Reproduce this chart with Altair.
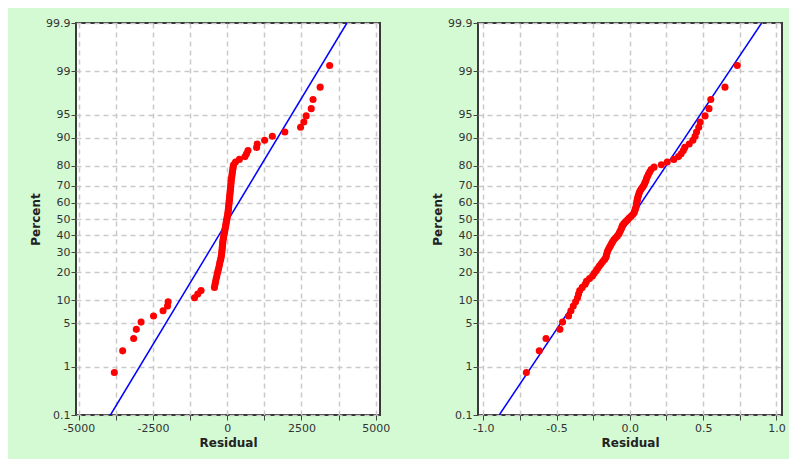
import altair as alt
import pandas as pd
from statistics import NormalDist

left_resid = [
    -3800, -3520, -3150, -3060, -2900, -2480, -2160, -2010, -1990, -1100,
    -990, -880, -430, -410, -390, -370, -350, -330, -310, -290,
    -270, -255, -240, -220, -205, -195, -185, -178, -171, -164,
    -158, -152, -148, -137, -126, -115, -104, -93, -82, -71,
    -60, -49, -38, -27, -16, -5, 6, 18, 26, 33,
    39, 46, 52, 58, 65, 71, 78, 84, 90, 97,
    103, 110, 116, 122, 129, 135, 145, 155, 165, 175,
    188, 200, 215, 280, 410, 600, 650, 700, 990, 1010,
    1260, 1520, 1940, 2470, 2580, 2660, 2830, 2890, 3130, 3450,
]
right_resid = [
    -0.706, -0.618, -0.572, -0.477, -0.459, -0.418, -0.402, -0.386, -0.370, -0.357,
    -0.350, -0.342, -0.325, -0.305, -0.296, -0.275, -0.255, -0.243, -0.230, -0.220,
    -0.208, -0.196, -0.185, -0.172, -0.163, -0.160, -0.156, -0.152, -0.145, -0.138,
    -0.131, -0.124, -0.117, -0.108, -0.097, -0.085, -0.075, -0.070, -0.064, -0.058,
    -0.054, -0.050, -0.040, -0.028, -0.016, -0.005, 0.008, 0.020, 0.029, 0.033,
    0.037, 0.041, 0.044, 0.046, 0.048, 0.050, 0.052, 0.056, 0.060, 0.064,
    0.070, 0.078, 0.088, 0.097, 0.103, 0.109, 0.114, 0.120, 0.127, 0.135,
    0.145, 0.165, 0.215, 0.255, 0.300, 0.332, 0.350, 0.365, 0.375, 0.405,
    0.430, 0.445, 0.455, 0.470, 0.480, 0.513, 0.540, 0.552, 0.649, 0.733,
]
# fitted normal reference lines (residual at 0.1 % and 99.9 %)
line_pct = [0.1, 99.9]
left_line_resid = [-3930, 4030]
right_line_resid = [-0.891, 0.899]

pct_ticks = [0.1, 1, 5, 10, 20, 30, 40, 50, 60, 70, 80, 90, 95, 99, 99.9]
pct_labels = ["0.1", "1", "5", "10", "20", "30", "40", "50", "60", "70", "80", "90", "95", "99", "99.9"]
left_xticks = [-5000, -3750, -2500, -1250, 0, 1250, 2500, 3750, 5000]
right_xticks = [-1.0, -0.75, -0.5, -0.25, 0.0, 0.25, 0.5, 0.75, 1.0]

nd = NormalDist()


def zval(p):
    return nd.inv_cdf(p / 100.0)


def frame(resid):
    n = len(resid)
    pct = [(i - 0.3) / (n + 0.4) * 100 for i in range(1, n + 1)]
    return pd.DataFrame({"Residual": resid, "Percent": pct, "z": [zval(p) for p in pct]})


def line_frame(resid):
    return pd.DataFrame({"Residual": resid, "Percent": line_pct, "z": [zval(p) for p in line_pct]})


zt = [zval(p) for p in pct_ticks]
zmax = zval(99.9)
expr = "''"
for z, lab in zip(zt, pct_labels):
    expr = f"abs(datum.value - ({z:.6f})) < 0.001 ? '{lab}' : ({expr})"

TXT = "#333333"
GRID = "#c9c9c9"


def panel(df, ldf, xdom, xticks, xlabel_expr):
    xenc = alt.X(
        "Residual:Q",
        scale=alt.Scale(domain=xdom, nice=False, zero=False),
        axis=alt.Axis(values=xticks, labelExpr=xlabel_expr, title="Residual"),
    )
    yenc = alt.Y(
        "z:Q",
        scale=alt.Scale(domain=[-zmax, zmax], nice=False, zero=False),
        axis=alt.Axis(values=zt, labelExpr=expr, title="Percent"),
    )
    line = alt.Chart(ldf).mark_line(color="#0000ff", strokeWidth=1.5, clip=True).encode(x=xenc, y=yenc)
    pts = alt.Chart(df).mark_circle(size=50, color="#ff0000", opacity=1).encode(x=xenc, y=yenc)
    return alt.layer(line, pts).properties(width=304, height=392)


left = panel(
    frame(left_resid), line_frame(left_line_resid), [-5091, 5145], left_xticks,
    "datum.value % 2500 == 0 ? replace(format(datum.value, 'd'), '\u2212', '-') : ''",
)
right = panel(
    frame(right_resid), line_frame(right_line_resid), [-1.036, 1.038], right_xticks,
    "abs(datum.value * 2 - round(datum.value * 2)) < 0.001 ? replace(format(datum.value, '.1f'), '\u2212', '-') : ''",
)

chart = (
    alt.hconcat(left, right, spacing=98, bounds="flush")
    .properties(background="#d4fad4", padding={"left": 20, "top": 8, "right": 2, "bottom": 10})
    .configure_view(fill="white", stroke="#3a3a3a", strokeWidth=2)
    .configure_axis(
        domain=False,
        grid=True,
        gridColor=GRID,
        gridDash=[5, 4],
        gridWidth=1.5,
        tickColor="#444444",
        tickSize=5,
        labelFont="DejaVu Sans",
        labelFontSize=11,
        labelColor=TXT,
        labelPadding=1,
        titleFont="DejaVu Sans",
        titleFontSize=12,
        titleFontWeight="bold",
        titleColor="#222222",
    )
    .configure_axisX(titlePadding=4, labelPadding=2)
    .configure_axisY(titlePadding=3)
)

chart.save("out.html", embed_options={"renderer": "svg", "actions": False})
